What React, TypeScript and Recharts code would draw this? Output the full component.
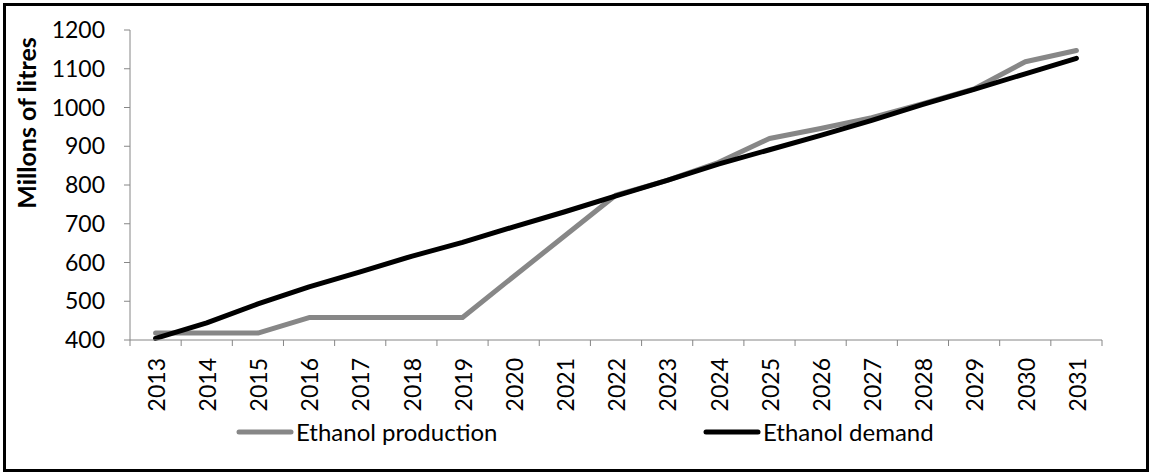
import React from "react";
import { LineChart, Line, XAxis, YAxis, Legend } from "recharts";

const years = [
  "2013", "2014", "2015", "2016", "2017", "2018", "2019", "2020", "2021", "2022",
  "2023", "2024", "2025", "2026", "2027", "2028", "2029", "2030", "2031",
];
const production = [418, 418, 418, 458, 458, 458, 458, 564, 669, 774, 812, 858, 920, 946, 974, 1010, 1048, 1118, 1147];
const demand = [404, 444, 493, 537, 576, 616, 652, 692, 731, 772, 812, 854, 891, 928, 967, 1008, 1047, 1087, 1127];
const yTicks = [400, 500, 600, 700, 800, 900, 1000, 1100, 1200];
const legendOrder = ["production", "demand"];

const data = years.map((year, i) => ({
  year,
  production: production[i],
  demand: demand[i],
}));

const FONT = "Lato, 'DejaVu Sans', sans-serif";
const AXIS = "#868686";
const GREY = "#878787";

const CHART_W = 1140;
const CHART_H = 463;
const MARGIN = { top: 24, right: 44, left: 0, bottom: 0 };
const Y_W = 124;
const X_H = 129;
const PLOT_W = CHART_W - MARGIN.left - MARGIN.right - Y_W;
const BAND = PLOT_W / years.length;

// category labels sit on band centres, tick marks on the band edges
const YearTick = (props: any) => {
  const { x, y, payload, index } = props;
  const left = x - BAND / 2;
  return (
    <g>
      <line x1={left} y1={y} x2={left} y2={y + 6} stroke={AXIS} strokeWidth={1} />
      {index === years.length - 1 && (
        <line x1={x + BAND / 2} y1={y} x2={x + BAND / 2} y2={y + 6} stroke={AXIS} strokeWidth={1} />
      )}
      <text
        x={x + 1}
        y={y + 18}
        transform={`rotate(-90, ${x + 1}, ${y + 18})`}
        textAnchor="end"
        dy="0.36em"
        fontFamily={FONT}
        fontSize={23}
        fill="#000"
      >
        {payload.value}
      </text>
    </g>
  );
};

const legendX = [230, 697];

const LegendContent = (props: any) => {
  const items = [...(props.payload || [])].sort(
    (a: any, b: any) => legendOrder.indexOf(a.dataKey) - legendOrder.indexOf(b.dataKey)
  );
  return (
    <div style={{ position: "relative", height: 30 }}>
      {items.map((item: any, i: number) => (
        <div
          key={item.value}
          style={{ position: "absolute", left: legendX[i], top: 0, height: 30, display: "flex", alignItems: "center" }}
        >
          <svg width={60} height={30} style={{ display: "block" }}>
            <line x1={3} y1={15} x2={55} y2={15} stroke={item.color} strokeWidth={5} strokeLinecap="round" />
          </svg>
          <span style={{ fontFamily: FONT, fontSize: 24, color: "#000", lineHeight: "30px", whiteSpace: "nowrap" }}>
            {item.value}
          </span>
        </div>
      ))}
    </div>
  );
};

export default function App() {
  return (
    <div
      style={{
        position: "absolute",
        left: 3,
        top: 3,
        width: 1146,
        height: 469,
        border: "3px solid #000",
        boxSizing: "border-box",
        background: "#fff",
      }}
    >
      <LineChart width={CHART_W} height={CHART_H} data={data} margin={MARGIN}>
        <XAxis
          dataKey="year"
          height={X_H}
          padding={{ left: BAND / 2, right: BAND / 2 }}
          interval={0}
          tickSize={0}
          tickMargin={0}
          axisLine={{ stroke: AXIS, strokeWidth: 1 }}
          tick={<YearTick />}
        />
        <YAxis
          width={Y_W}
          domain={[400, 1200]}
          ticks={yTicks}
          interval={0}
          tickSize={6}
          tickMargin={19}
          axisLine={{ stroke: AXIS, strokeWidth: 1 }}
          tickLine={{ stroke: AXIS, strokeWidth: 1 }}
          tick={{ fontFamily: FONT, fontSize: 23, fill: "#000" }}
          label={() => (
            <text
              x={21}
              y={117}
              transform="rotate(-90, 21, 117)"
              textAnchor="middle"
              dy="0.36em"
              fontFamily={FONT}
              fontWeight="bold"
              fontSize={25}
              fill="#000"
            >
              Millons of litres
            </text>
          )}
        />
        <Legend verticalAlign="middle" wrapperStyle={{ top: 411, left: 0, width: CHART_W, height: 30 }} content={<LegendContent />} />
        <Line
          dataKey="production"
          name="Ethanol production"
          stroke={GREY}
          strokeWidth={5}
          strokeLinecap="round"
          strokeLinejoin="round"
          dot={false}
          activeDot={false}
          isAnimationActive={false}
        />
        <Line
          dataKey="demand"
          name="Ethanol demand"
          stroke="#000"
          strokeWidth={5}
          strokeLinecap="round"
          strokeLinejoin="round"
          dot={false}
          activeDot={false}
          isAnimationActive={false}
        />
      </LineChart>
    </div>
  );
}
